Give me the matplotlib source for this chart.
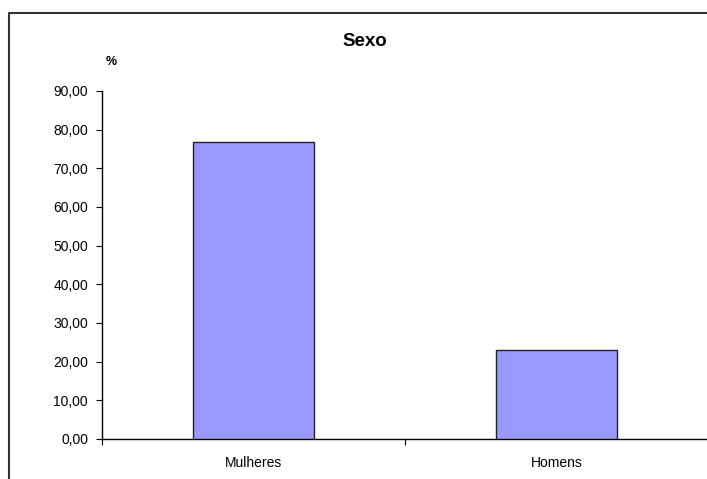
import matplotlib.pyplot as plt
from matplotlib.lines import Line2D
from matplotlib.ticker import FuncFormatter

categorias = ["Mulheres", "Homens"]
valores = [76.92, 23.08]
y_ticks = [0, 10, 20, 30, 40, 50, 60, 70, 80, 90]

plt.rcParams['font.family'] = ['Liberation Sans', 'DejaVu Sans']

fig = plt.figure(figsize=(7.07, 4.79), dpi=100)
W, H = 707, 479
ax = fig.add_axes([102 / W, 40 / H, 606 / W, 348 / H])

x = list(range(len(categorias)))
ax.bar(x, valores, width=0.4, color='#9999FF', edgecolor='#222222', linewidth=1.0, zorder=3)

ax.set_xlim(-0.5, len(categorias) - 0.5)
ax.set_ylim(0, 90)
ax.set_yticks(y_ticks)
ax.yaxis.set_major_formatter(FuncFormatter(lambda v, p: f"{v:.2f}".replace('.', ',')))

# ticks nas fronteiras das categorias, rótulos no centro
ax.set_xticks([-0.5 + i for i in range(len(categorias) + 1)])
ax.set_xticklabels([])
ax.set_xticks(x, minor=True)
ax.set_xticklabels(categorias, minor=True)
ax.tick_params(axis='x', which='major', direction='out', length=4, width=0.8)
ax.tick_params(axis='x', which='minor', length=0, pad=12.5, labelsize=10)
ax.tick_params(axis='y', direction='out', length=4, width=0.8, pad=6, labelsize=10)

for s in ['top', 'right']:
    ax.spines[s].set_visible(False)
ax.spines['left'].set_linewidth(1.0)
ax.spines['bottom'].set_linewidth(1.0)

fig.text(365 / W, 1 - 42 / H, "Sexo", ha='center', va='center', fontsize=13.5, fontweight='bold')
fig.text(111 / W, 1 - 62 / H, "%", ha='center', va='center', fontsize=9, fontweight='bold')

# moldura do gráfico (estilo Excel)
fig.add_artist(Line2D([8.5 / W, 8.5 / W, 1.0], [0.0, 1 - 12.5 / H, 1 - 12.5 / H],
                      transform=fig.transFigure, color='#333333', linewidth=1.5))

fig.savefig('out.png', dpi=100)
